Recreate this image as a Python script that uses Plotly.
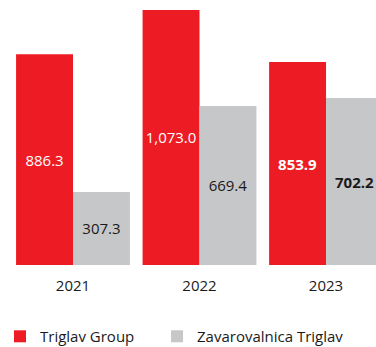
import plotly.graph_objects as go

years = ["2021", "2022", "2023"]
group_values = [886.3, 1073.0, 853.9]
insurer_values = [307.3, 669.4, 702.2]
series_names = ["Triglav Group", "Zavarovalnica Triglav"]

RED = "#ED1C24"
GREY = "#C6C7C8"
FONT = "Open Sans"

x_pos = list(range(len(years)))


def labels(values, bold_last=True):
    out = []
    for i, v in enumerate(values):
        s = f"{v:,.1f}"
        if bold_last and i == len(values) - 1:
            s = f"<b>{s}</b>"
        out.append(s)
    return out


bar_w = 0.45

fig = go.Figure()
fig.add_trace(go.Bar(
    x=x_pos, y=group_values, name=series_names[0],
    marker=dict(color=RED, line=dict(width=0)),
    width=bar_w, offset=-bar_w,
    text=labels(group_values), textposition="inside",
    insidetextanchor="middle", textangle=0, constraintext="none",
    textfont=dict(family=FONT, size=15, color="white"),
    hoverinfo="skip", legend="legend",
))
fig.add_trace(go.Bar(
    x=x_pos, y=insurer_values, name=series_names[1],
    marker=dict(color=GREY, line=dict(width=0)),
    width=bar_w, offset=0,
    text=labels(insurer_values), textposition="inside",
    insidetextanchor="middle", textangle=0, constraintext="none",
    textfont=dict(family=FONT, size=15, color="#1a1a1a"),
    hoverinfo="skip", legend="legend2",
))

legend_style = dict(
    orientation="h", xanchor="left", y=-0.27, yanchor="middle",
    font=dict(family=FONT, size=15, color="#1a1a1a"),
    bgcolor="rgba(0,0,0,0)",
)

fig.update_layout(
    width=376, height=347,
    margin=dict(l=0, r=0, t=0, b=81.5, autoexpand=False),
    paper_bgcolor="white", plot_bgcolor="white",
    barmode="overlay",
    font=dict(family=FONT, size=15, color="#1a1a1a"),
    showlegend=True,
    legend=dict(x=0.0, **legend_style),
    legend2=dict(x=157 / 376, **legend_style),
    xaxis=dict(
        range=[-0.577, 2.395], tickmode="array", tickvals=x_pos, ticktext=years,
        showgrid=False, zeroline=False, showline=False, ticks="",
        ticklabelstandoff=10,
        tickfont=dict(family=FONT, size=15, color="#1a1a1a"),
        fixedrange=True,
    ),
    yaxis=dict(
        range=[0, 1115], visible=False, showgrid=False, zeroline=False,
        fixedrange=True,
    ),
)

fig.write_html("out.html")
